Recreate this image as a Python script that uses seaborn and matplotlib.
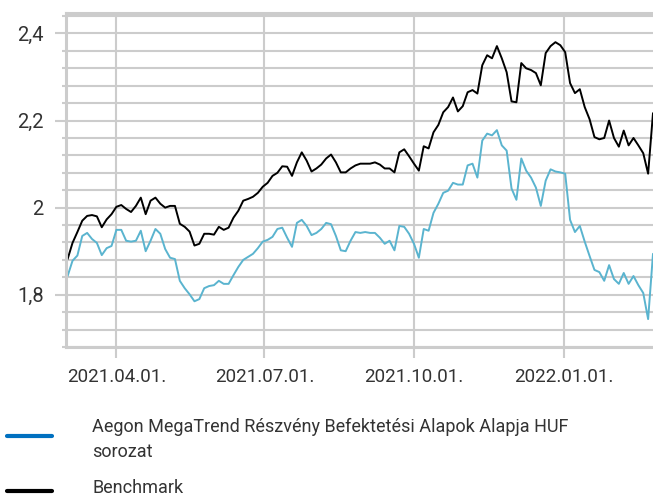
import matplotlib
matplotlib.use('Agg')
import matplotlib.pyplot as plt
import matplotlib.dates as mdates
import matplotlib.ticker as mticker
from matplotlib.lines import Line2D
import pandas as pd
import seaborn as sns

# data, one point every 3 calendar days
start_date = '2021-03-02'
fund_values = [
    1.843, 1.878, 1.890, 1.935, 1.942, 1.928, 1.919, 1.891, 1.907, 1.912,
    1.949, 1.949, 1.924, 1.922, 1.924, 1.947, 1.900, 1.924, 1.951, 1.940,
    1.905, 1.885, 1.882, 1.832, 1.815, 1.801, 1.785, 1.790, 1.815, 1.820,
    1.822, 1.832, 1.825, 1.825, 1.845, 1.864, 1.880, 1.887, 1.894, 1.907,
    1.922, 1.926, 1.933, 1.951, 1.954, 1.931, 1.910, 1.965, 1.972, 1.958,
    1.937, 1.942, 1.951, 1.965, 1.962, 1.935, 1.902, 1.900, 1.924, 1.944,
    1.942, 1.944, 1.942, 1.942, 1.931, 1.917, 1.924, 1.902, 1.958, 1.956,
    1.940, 1.917, 1.885, 1.951, 1.947, 1.988, 2.009, 2.034, 2.039, 2.057,
    2.053, 2.053, 2.097, 2.101, 2.069, 2.154, 2.170, 2.166, 2.178, 2.143,
    2.131, 2.044, 2.018, 2.113, 2.085, 2.069, 2.046, 2.004, 2.062, 2.088,
    2.083, 2.081, 2.078, 1.972, 1.944, 1.958, 1.922, 1.889, 1.857, 1.852,
    1.832, 1.868, 1.836, 1.825, 1.850, 1.825, 1.843, 1.822, 1.804, 1.744,
    1.894,
]
benchmark_values = [
    1.882, 1.919, 1.944, 1.970, 1.981, 1.983, 1.980, 1.955, 1.973, 1.985,
    2.002, 2.006, 1.997, 1.990, 2.004, 2.023, 1.985, 2.016, 2.023, 2.009,
    2.000, 2.004, 2.004, 1.963, 1.956, 1.945, 1.913, 1.917, 1.940, 1.940,
    1.938, 1.956, 1.949, 1.954, 1.977, 1.993, 2.016, 2.020, 2.025, 2.034,
    2.048, 2.057, 2.073, 2.080, 2.095, 2.094, 2.073, 2.104, 2.127, 2.108,
    2.083, 2.090, 2.099, 2.113, 2.122, 2.104, 2.081, 2.081, 2.090, 2.097,
    2.101, 2.101, 2.101, 2.104, 2.099, 2.090, 2.090, 2.081, 2.127, 2.134,
    2.118, 2.101, 2.085, 2.141, 2.136, 2.173, 2.190, 2.219, 2.231, 2.253,
    2.221, 2.233, 2.265, 2.270, 2.262, 2.327, 2.350, 2.343, 2.371, 2.343,
    2.311, 2.244, 2.242, 2.332, 2.320, 2.316, 2.309, 2.281, 2.355, 2.371,
    2.380, 2.373, 2.357, 2.286, 2.263, 2.272, 2.231, 2.203, 2.162, 2.157,
    2.160, 2.200, 2.160, 2.140, 2.177, 2.143, 2.160, 2.143, 2.125, 2.078,
    2.217,
]
fund_label = 'Aegon MegaTrend Részvény Befektetési Alapok Alapja HUF'
fund_label_2 = 'sorozat'
benchmark_label = 'Benchmark'
tick_dates = ['2021-04-01', '2021-07-01', '2021-10-01', '2022-01-01']

dates = pd.date_range(start_date, periods=len(fund_values), freq='3D')
df = pd.DataFrame({
    'date': dates,
    'fund': fund_values,
    'benchmark': benchmark_values,
})

sns.set_theme(style='white')
plt.rcParams['font.family'] = ['Roboto', 'DejaVu Sans']

grid_color = '#cccccc'
text_color = '#333333'

fig = plt.figure(figsize=(6.53, 4.98), dpi=100)
ax = fig.add_axes([66 / 653, 1 - 347 / 498, 587 / 653, 334 / 498])

sns.lineplot(data=df, x='date', y='fund', ax=ax, color='#5ab4cf', linewidth=1.4)
sns.lineplot(data=df, x='date', y='benchmark', ax=ax, color='black', linewidth=1.4)

ax.set_xlim(pd.Timestamp('2021-03-01'), pd.Timestamp('2022-02-25'))
ax.set_ylim(1.68, 2.447)
ax.set_xlabel('')
ax.set_ylabel('')

ax.yaxis.set_major_locator(mticker.MultipleLocator(0.2))
ax.yaxis.set_minor_locator(mticker.MultipleLocator(0.04))
ax.yaxis.set_major_formatter(mticker.FuncFormatter(
    lambda v, pos: '{:g}'.format(round(v, 2)).replace('.', ',')))
ax.xaxis.set_major_locator(mticker.FixedLocator(
    [mdates.date2num(pd.Timestamp(d)) for d in tick_dates]))
ax.xaxis.set_major_formatter(mdates.DateFormatter('%Y.%m.%d.'))

ax.grid(True, which='both', axis='y', color=grid_color, linewidth=1.5)
ax.grid(True, which='major', axis='x', color=grid_color, linewidth=1.5)
ax.set_axisbelow(True)

ax.tick_params(axis='y', which='major', length=8, width=1.5, color=grid_color,
               pad=8, labelsize=14.5, labelcolor=text_color, left=True)
ax.tick_params(axis='y', which='minor', length=3, width=1.5, color=grid_color,
               left=True)
ax.tick_params(axis='x', which='major', length=8, width=1.5, color=grid_color,
               pad=7, labelsize=13.5, labelcolor=text_color, bottom=True)

for side in ['left', 'bottom', 'top']:
    ax.spines[side].set_color(grid_color)
    ax.spines[side].set_linewidth(2.2)
ax.spines['right'].set_visible(False)

# legend below the chart
fig.add_artist(Line2D([7 / 653, 52 / 653], [1 - 436 / 498, 1 - 436 / 498],
                      color='#0070c0', linewidth=3, transform=fig.transFigure))
fig.add_artist(Line2D([7 / 653, 52 / 653], [1 - 491 / 498, 1 - 491 / 498],
                      color='black', linewidth=3, transform=fig.transFigure))
fig.text(92 / 653, 1 - 432 / 498, fund_label, fontsize=13, color=text_color,
         va='baseline')
fig.text(92 / 653, 1 - 457 / 498, fund_label_2, fontsize=13, color=text_color,
         va='baseline')
fig.text(92 / 653, 1 - 497 / 498, benchmark_label, fontsize=13, color=text_color,
         va='bottom')

fig.savefig('out.png', dpi=100)
plt.close(fig)
